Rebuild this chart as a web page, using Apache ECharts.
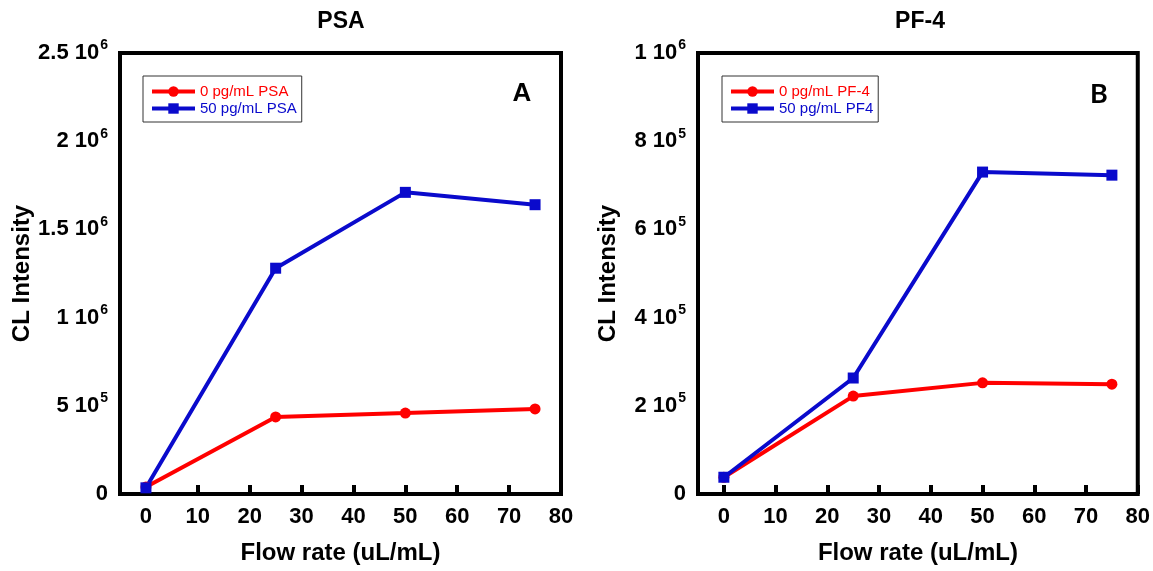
<!DOCTYPE html>
<html>
<head>
<meta charset="utf-8">
<script src="https://cdn.jsdelivr.net/npm/echarts@6/dist/echarts.min.js"></script>
<style>
  html, body { margin: 0; padding: 0; background: #fff; }
  #chart { width: 1153px; height: 571px; }
</style>
</head>
<body>
<div id="chart"></div>
<script>
// data
const flowRate = [0, 25, 50, 75];
const psaZero = [40000, 437000, 459000, 482000];
const psaFifty = [35000, 1280000, 1710000, 1640000];
const pf4Zero = [38000, 222000, 252000, 249000];
const pf4Fifty = [38000, 263000, 730000, 723000];

const xTicks = [0, 10, 20, 30, 40, 50, 60, 70, 80];
// y tick labels: mantissa + power of ten
const psaTickMant = ['0', '5', '1', '1.5', '2', '2.5'];
const psaTickExp = ['', '5', '6', '6', '6', '6'];
const pf4TickMant = ['0', '2', '4', '6', '8', '1'];
const pf4TickExp = ['', '5', '5', '5', '5', '6'];

const FONT = '"Liberation Sans", Arial, sans-serif';
const RED = '#ff0000';
const BLUE = '#0a0acc';

const pairs = (ys) => flowRate.map((x, i) => [x, ys[i]]);

const chart = echarts.init(document.getElementById('chart'), null, { renderer: 'canvas' });

const grids = [
  { left: 120, top: 53, width: 441, height: 441 },
  { left: 698, top: 53, width: 441, height: 441 }
];

function xAxis(idx) {
  return {
    type: 'value',
    gridIndex: idx,
    min: -5,
    max: 80,
    name: 'Flow rate (uL/mL)',
    nameLocation: 'middle',
    nameGap: 47,
    nameTextStyle: { fontFamily: FONT, fontSize: 24, fontWeight: 'bold', color: '#000' },
    axisLine: { show: false },
    splitLine: { show: false },
    axisTick: {
      show: true,
      inside: true,
      length: 9,
      customValues: xTicks,
      lineStyle: { color: '#000', width: 4 }
    },
    axisLabel: {
      customValues: xTicks,
      margin: 12,
      fontFamily: FONT,
      fontSize: 22,
      fontWeight: 'bold',
      color: '#000'
    }
  };
}

function yAxis(idx, max, interval, mant, exp) {
  return {
    type: 'value',
    gridIndex: idx,
    min: 0,
    max: max,
    interval: interval,
    name: 'CL Intensity',
    nameLocation: 'middle',
    nameGap: 78,
    nameTextStyle: { fontFamily: FONT, fontSize: 24, fontWeight: 'bold', color: '#000' },
    axisLine: { show: false },
    axisTick: { show: false },
    splitLine: { show: false },
    axisLabel: {
      margin: 12,
      formatter: function (v) {
        const k = Math.round(v / interval);
        return exp[k] ? '{m|' + mant[k] + ' 10}{e|' + exp[k] + '}' : '{m|' + mant[k] + '}';
      },
      rich: {
        m: { fontFamily: FONT, fontSize: 22, fontWeight: 'bold', color: '#000' },
        e: {
          fontFamily: FONT, fontSize: 14, fontWeight: 'bold', color: '#000',
          verticalAlign: 'bottom', padding: [0, 0, 15, 1]
        }
      }
    }
  };
}

function legend(names, left) {
  return {
    orient: 'vertical',
    left: left,
    top: 76,
    padding: [8, 5, 6, 7],
    itemGap: 2,
    itemWidth: 43,
    itemHeight: 13,
    borderColor: '#333',
    borderWidth: 1,
    lineStyle: { width: 4 },
    textStyle: { fontFamily: FONT, fontSize: 15, lineHeight: 15 },
    data: [
      { name: names[0], textStyle: { color: RED } },
      { name: names[1], textStyle: { color: BLUE } }
    ]
  };
}

function lineSeries(name, data, idx, color, symbol, size) {
  return {
    name: name,
    type: 'line',
    xAxisIndex: idx,
    yAxisIndex: idx,
    data: pairs(data),
    symbol: symbol,
    symbolSize: size,
    showAllSymbol: true,
    lineStyle: { color: color, width: 4 },
    itemStyle: { color: color },
    animation: false
  };
}

const textEl = (text, x, y, size, family) => ({
  type: 'text',
  x: x,
  y: y,
  style: {
    text: text,
    fontFamily: family || FONT,
    fontSize: size,
    fontWeight: 'bold',
    fill: '#000',
    align: 'center',
    verticalAlign: 'middle'
  }
});

const options = {
  backgroundColor: '#fff',
  animation: false,
  grid: grids.map((g) => Object.assign({ show: true, borderColor: '#000', borderWidth: 4, backgroundColor: 'transparent' }, g)),
  xAxis: [xAxis(0), xAxis(1)],
  yAxis: [
    yAxis(0, 2500000, 500000, psaTickMant, psaTickExp),
    yAxis(1, 1000000, 200000, pf4TickMant, pf4TickExp)
  ],
  legend: [
    legend(['0 pg/mL PSA', '50 pg/mL PSA'], 143),
    legend(['0 pg/mL PF-4', '50 pg/mL PF4'], 722)
  ],
  series: [
    lineSeries('0 pg/mL PSA', psaZero, 0, RED, 'circle', 11),
    lineSeries('50 pg/mL PSA', psaFifty, 0, BLUE, 'rect', 11),
    lineSeries('0 pg/mL PF-4', pf4Zero, 1, RED, 'circle', 11),
    lineSeries('50 pg/mL PF4', pf4Fifty, 1, BLUE, 'rect', 11)
  ],
  graphic: [
    textEl('PSA', 341, 22, 23),
    textEl('PF-4', 920, 22, 23),
    textEl('A', 522, 94, 26),
    textEl('B', 1099, 94, 27, 'Lato, "Liberation Sans", sans-serif')
  ]
};

chart.setOption(options);
</script>
</body>
</html>
